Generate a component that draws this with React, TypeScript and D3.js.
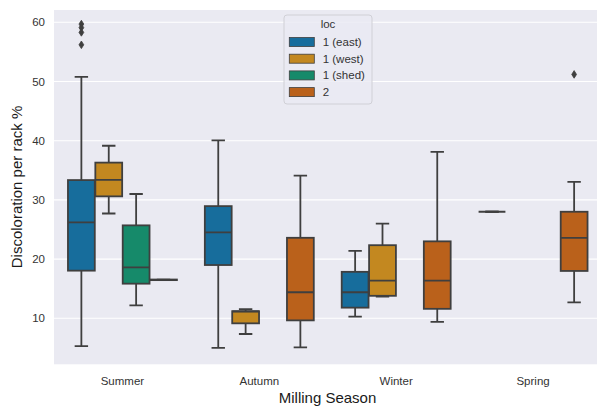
import React from "react";
import * as d3 from "d3";

// ---- Data ----
const seasons = ["Summer", "Autumn", "Winter", "Spring"];
const locs = ["1 (east)", "1 (west)", "1 (shed)", "2"];
const yTicks = [10, 20, 30, 40, 50, 60];

// stats per season: [lowerWhisker, q1, median, q3, upperWhisker] (null = no data)
type Stat = [number, number, number, number, number] | null;
const eastStats: Stat[] = [
  [5.3, 18.05, 26.2, 33.35, 50.8],
  [5.0, 19.0, 24.5, 28.95, 40.05],
  [10.3, 11.8, 14.4, 17.85, 21.4],
  [28.0, 28.0, 28.0, 28.0, 28.0],
];
const westStats: Stat[] = [
  [27.7, 30.6, 33.4, 36.3, 39.15],
  [7.35, 9.15, 11.15, 11.2, 11.55],
  [13.65, 13.8, 16.35, 22.35, 26.0],
  null,
];
const shedStats: Stat[] = [
  [12.2, 15.85, 18.6, 25.7, 31.0],
  null,
  null,
  null,
];
const loc2Stats: Stat[] = [
  [16.45, 16.45, 16.5, 16.55, 16.55],
  [5.1, 9.65, 14.4, 23.6, 34.1],
  [9.4, 11.6, 16.35, 23.0, 38.1],
  [12.7, 18.0, 23.6, 28.0, 33.05],
];
const eastOutliers: number[][] = [[59.7, 59.1, 58.3, 56.2], [], [], []];
const westOutliers: number[][] = [[], [], [], []];
const shedOutliers: number[][] = [[], [], [], []];
const loc2Outliers: number[][] = [[], [], [], [51.2]];

const colors = ["#176d9c", "#c38820", "#168a6a", "#ba611b"];

const W = 597;
const H = 406;
const FONT = "'Liberation Sans', Arial, sans-serif";
const LINE = "#3f3f3f";

export default function App() {
  const x = d3.scaleBand<string>().domain(seasons).range([54, 601.5]);
  const hue = d3
    .scaleBand<string>()
    .domain(locs)
    .range([x.bandwidth() * 0.1, x.bandwidth() * 0.9]);
  const y = d3.scaleLinear().domain([2.23, 62.08]).range([364.3, 10]);

  const allStats = [eastStats, westStats, shedStats, loc2Stats];
  const allOut = [eastOutliers, westOutliers, shedOutliers, loc2Outliers];
  const boxW = hue.bandwidth() * 0.98;

  const plotLeft = 54;
  const plotTop = 10;
  const plotBottom = 364.3;

  const boxes: React.ReactNode[] = [];
  locs.forEach((loc, li) => {
    seasons.forEach((s, si) => {
      const st = allStats[li][si];
      if (!st) return;
      const cx = (x(s) as number) + (hue(loc) as number) + hue.bandwidth() / 2;
      const [lo, q1, med, q3, hi] = st;
      const x0 = cx - boxW / 2;
      const capHalf = boxW / 4;
      boxes.push(
        <g key={`${loc}-${s}`}>
          <line x1={cx} x2={cx} y1={y(q3)} y2={y(hi)} stroke={LINE} strokeWidth={1.8} />
          <line x1={cx} x2={cx} y1={y(q1)} y2={y(lo)} stroke={LINE} strokeWidth={1.8} />
          <line x1={cx - capHalf} x2={cx + capHalf} y1={y(hi)} y2={y(hi)} stroke={LINE} strokeWidth={1.8} />
          <line x1={cx - capHalf} x2={cx + capHalf} y1={y(lo)} y2={y(lo)} stroke={LINE} strokeWidth={1.8} />
          <rect
            x={x0}
            y={y(q3)}
            width={boxW}
            height={Math.max(0, y(q1) - y(q3))}
            fill={colors[li]}
            stroke={LINE}
            strokeWidth={1.8}
          />
          <line x1={x0} x2={x0 + boxW} y1={y(med)} y2={y(med)} stroke={LINE} strokeWidth={1.8} />
          {allOut[li][si].map((v, k) => {
            const py = y(v);
            return (
              <path
                key={k}
                d={`M${cx},${py - 3.8} L${cx + 2.4},${py} L${cx},${py + 3.8} L${cx - 2.4},${py} Z`}
                fill={LINE}
                stroke={LINE}
                strokeWidth={0.8}
              />
            );
          })}
        </g>
      );
    });
  });

  const legendX = 284;
  const legendY = 15;
  const rowY = (i: number) => legendY + 27 + i * 16.7;

  return (
    <svg
      width={W}
      height={H}
      style={{ position: "absolute", left: 0, top: 0, display: "block", background: "#fff" }}
      fontFamily={FONT}
    >
      <defs>
        <clipPath id="plotclip">
          <rect x={plotLeft} y={plotTop} width={W - plotLeft} height={plotBottom - plotTop} />
        </clipPath>
      </defs>
      <rect x={plotLeft} y={plotTop} width={601.5 - plotLeft} height={plotBottom - plotTop} fill="#eaeaf2" />
      <g clipPath="url(#plotclip)">
        {yTicks.map((t) => (
          <line key={t} x1={plotLeft} x2={601.5} y1={y(t)} y2={y(t)} stroke="#fff" strokeWidth={1.1} />
        ))}
        {boxes}
      </g>
      {yTicks.map((t) => (
        <text key={t} x={45} y={y(t)} dy="0.35em" textAnchor="end" fontSize={11.5} fill="#333">
          {t}
        </text>
      ))}
      {seasons.map((s) => (
        <text
          key={s}
          x={(x(s) as number) + x.bandwidth() / 2}
          y={385}
          textAnchor="middle"
          fontSize={11.5}
          fill="#333"
        >
          {s}
        </text>
      ))}
      <text x={327.5} y={403} textAnchor="middle" fontSize={15} fill="#1a1a1a">
        Milling Season
      </text>
      <text
        transform={`translate(21.5,187) rotate(-90)`}
        textAnchor="middle"
        fontSize={15}
        fill="#1a1a1a"
      >
        Discoloration per rack %
      </text>
      {/* legend */}
      <g>
        <rect
          x={legendX}
          y={legendY}
          width={88}
          height={89}
          rx={3}
          fill="#eaeaf2"
          fillOpacity={0.8}
          stroke="#d0d0d6"
          strokeWidth={1}
        />
        <text x={legendX + 44} y={legendY + 13} textAnchor="middle" fontSize={11.5} fill="#333">
          loc
        </text>
        {locs.map((l, i) => (
          <g key={l}>
            <rect
              x={289.3}
              y={rowY(i) - 4.5}
              width={25}
              height={9}
              fill={colors[i]}
              stroke={LINE}
              strokeWidth={0.8}
            />
            <text x={322.7} y={rowY(i)} dy="0.35em" fontSize={11.5} fill="#333">
              {l}
            </text>
          </g>
        ))}
      </g>
    </svg>
  );
}
